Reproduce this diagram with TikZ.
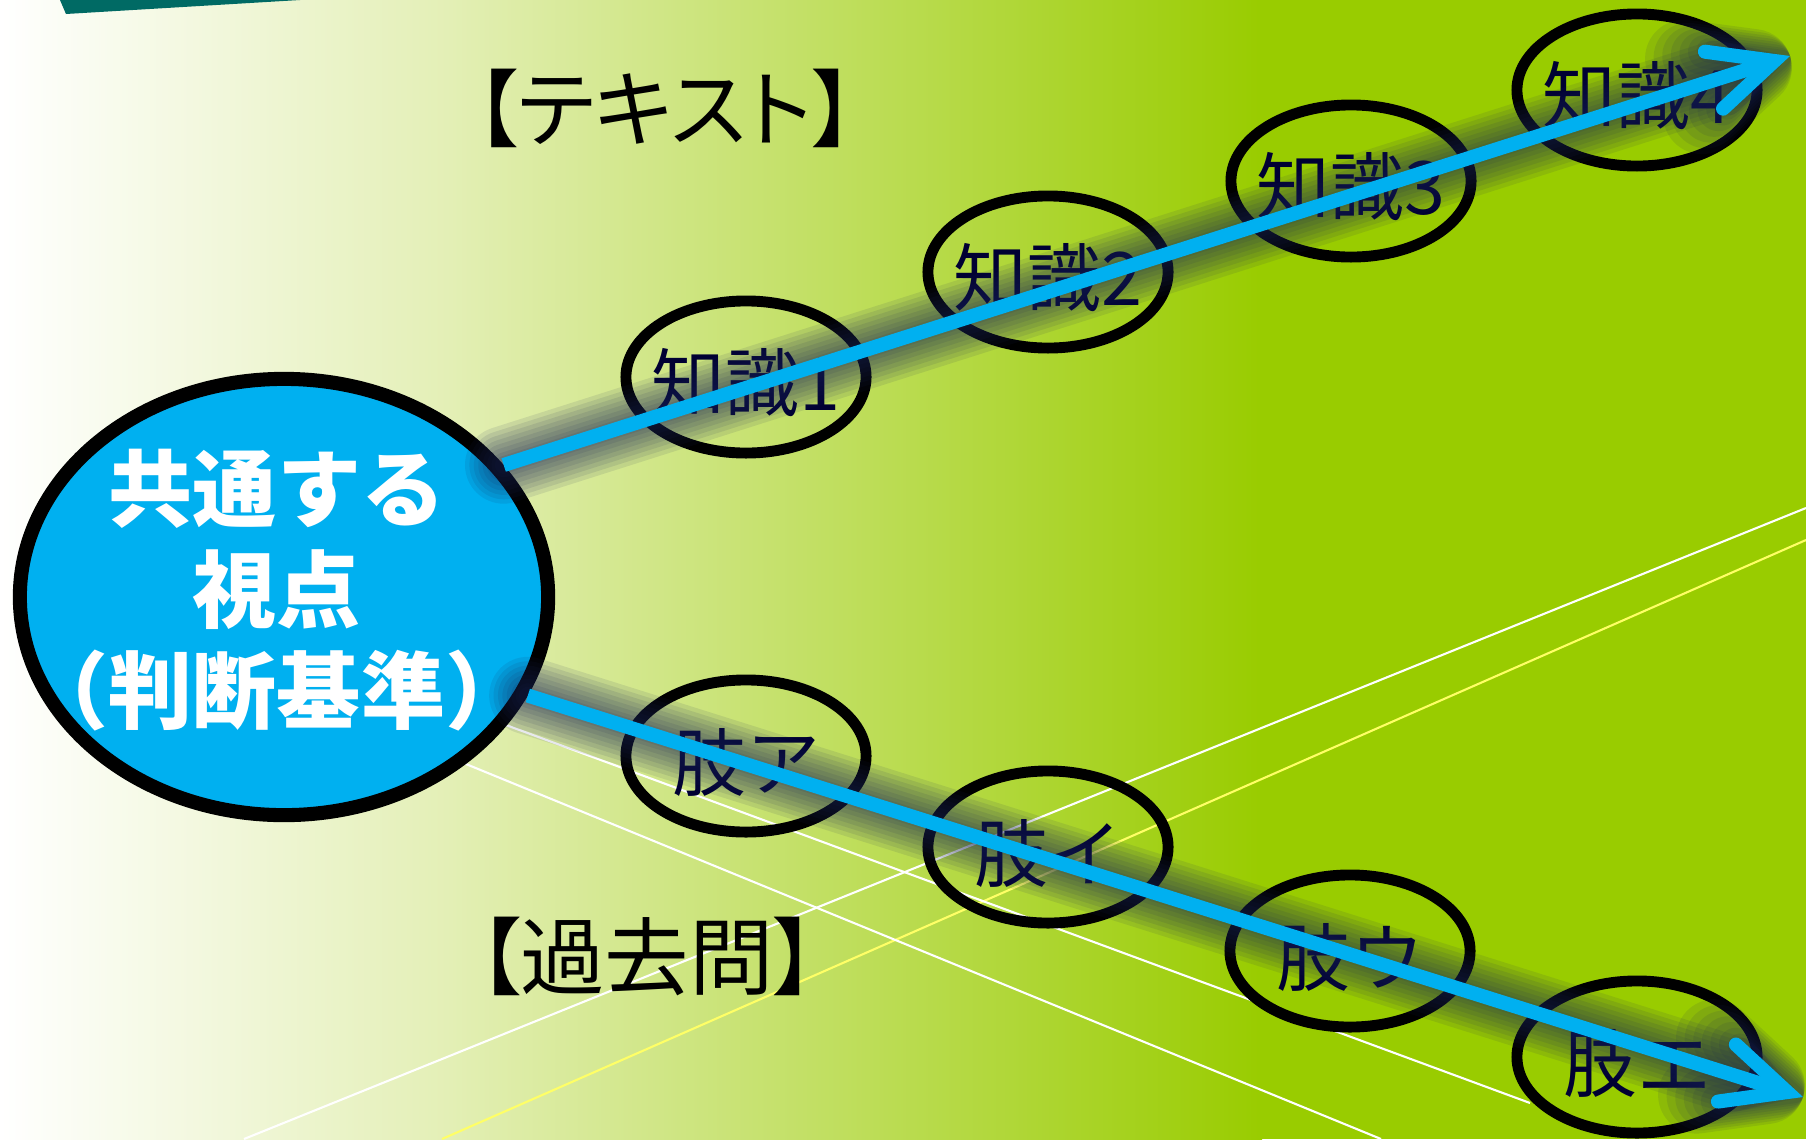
\documentclass[tikz,border=0pt]{standalone}
\usepackage{fontspec}
\newfontfamily\cjk{Noto Sans CJK JP}
\newfontfamily\cjkp{Noto Sans CJK JP}[RawFeature=+palt]
\usetikzlibrary{shapes.geometric,arrows.meta}
\definecolor{bgA}{HTML}{E3EFB5}
\definecolor{bgG}{HTML}{99CC00}
\definecolor{hdrteal}{HTML}{006A64}
\definecolor{arrowblue}{HTML}{00B0F0}
\definecolor{navytext}{HTML}{000033}
\definecolor{glowc}{HTML}{1A2455}
\definecolor{ylw}{HTML}{FFFF66}
\tikzset{
  bigell/.style={ellipse, draw=black, line width=4pt, fill=arrowblue,
    minimum width=5.28cm, minimum height=4.36cm, inner sep=0pt},
  bigtext/.style={align=center, text=white, inner sep=0pt,
    font=\cjk\bfseries\fontsize{23.9pt}{28.7pt}\selectfont},
  smallell/.style={ellipse, draw=black, line width=3.1pt,
    minimum width=2.4cm, minimum height=1.52cm, inner sep=0pt},
  smalltext/.style={text=navytext, inner sep=0pt,
    font=\cjk\fontsize{21pt}{24pt}\selectfont},
  lbl/.style={text=black, inner sep=0pt,
    font=\cjkp\fontsize{24pt}{28pt}\selectfont},
  wline/.style={draw=white, line width=0.6pt},
  yline/.style={draw=ylw, line width=0.6pt},
  barrow/.style={draw=arrowblue, line width=4pt,
    -{Straight Barb[length=18pt,width=17pt,line cap=round,line join=miter]}},
  glow/.style={draw=glowc, opacity=#1, line cap=round,
    -{Straight Barb[length=18pt,width=17pt,round]}},
}
\begin{document}
\begin{tikzpicture}[x=0.01cm,y=-0.01cm]
\useasboundingbox (0,0) rectangle (1806,1139);
% background
\fill[white] (0,0) rectangle (1806,1139);
\shade[left color=white, right color=bgA] (0,0) rectangle (452,1139);
\shade[left color=bgA, right color=bgG] (450,0) rectangle (1262,1139);
\fill[bgG] (1260,0) rectangle (1806,1139);
% teal header piece
\fill[hdrteal] (60,0) -- (66,14) -- (300,0) -- cycle;
% thin background lines
\draw[wline] (1806,508) -- (244,1139);
\draw[yline] (1806,540) -- (442,1139);
\draw[wline] (300,649) -- (1530,1103);
\draw[wline] (300,696) -- (1381,1139);
% central ellipse
\node[bigell] (c) at (284,597) {};
\node[bigtext] (ct) at (277,590) {共通する\\視点\\（判断基準）};
% knowledge ellipses
\node[smallell] (k1) at (746,377) {};
\node[smallell] (k2) at (1048,272) {};
\node[smallell] (k3) at (1351,181) {};
\node[smallell] (k4) at (1637,90) {};
\node[smalltext] (tk1) at (746,383) {知識1};
\node[smalltext] (tk2) at (1048,278) {知識2};
\node[smalltext] (tk3) at (1351,187) {知識3};
\node[smalltext] (tk4) at (1637,96) {知識4};
% option ellipses
\node[smallell] (s1) at (746,756) {};
\node[smallell] (s2) at (1048,847) {};
\node[smallell] (s3) at (1350,951) {};
\node[smallell] (s4) at (1637,1057) {};
\node[smalltext] (ts1) at (746,762) {肢ア};
\node[smalltext] (ts2) at (1048,853) {肢イ};
\node[smalltext] (ts3) at (1350,957) {肢ウ};
\node[smalltext] (ts4) at (1637,1063) {肢エ};
% labels
\node[lbl] (lt) at (665,108) {【テキスト】};
\node[lbl] (lk) at (647,956) {【過去問】};
% arrow end points
\coordinate (e1) at (1790,56);
\coordinate (e2) at (1803,1097);
% glow
\foreach \w in {22pt,19.5pt,17pt,14.5pt,12pt,9.5pt,7pt,5pt}{
  \draw[glow=0.1, line width=\w] (c.31) -- (e1);
  \draw[glow=0.1, line width=\w] (c.-22) -- (e2);
}
% arrows
\draw[barrow] (c.31) -- (e1);
\draw[barrow] (c.-22) -- (e2);
\end{tikzpicture}
\end{document}
